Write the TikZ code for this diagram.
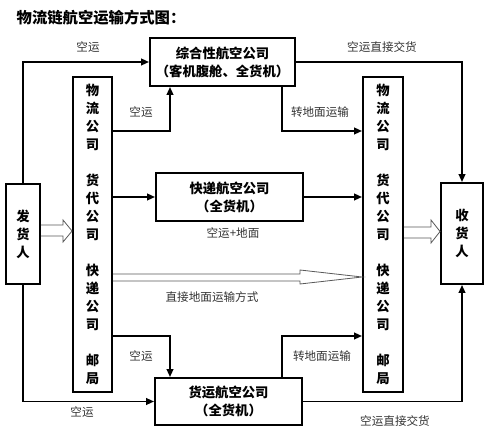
\documentclass[tikz,border=0pt]{standalone}
\usepackage{fontspec}
\setmainfont{Noto Sans CJK SC}
\usetikzlibrary{arrows.meta}
\begin{document}
\begin{tikzpicture}[x=0.75pt,y=-0.75pt,
    box/.style={draw,line width=1.4pt,inner sep=0pt,align=center,font=\bfseries\fontsize{10}{13.5}\selectfont},
    lbl/.style={text=black!80,font=\fontsize{8.7}{10}\selectfont},
    arr/.style={line width=1.4pt,-{Triangle[length=6pt,width=5pt]}},
    hollow/.style={draw=black!65,line width=0.6pt}]
    \useasboundingbox (0,0) rectangle (500,438);
    \node[anchor=west,font=\bfseries\fontsize{11.5}{12}\selectfont] (title) at (12,18) {物流链航空运输方式图：};
    \node[box,minimum width=25.5pt,minimum height=75pt] (sender) at (23,234) {发\\货\\人};
    \node[box,minimum width=31.5pt,minimum height=75.75pt] (receiver) at (462,233.5) {收\\货\\人};
    \node[box,minimum width=29.25pt,minimum height=236.25pt] (leftcol) at (92.5,234.5)
        {物\\流\\公\\司\\[13.5pt]货\\代\\公\\司\\[13.5pt]快\\递\\公\\司\\[13.5pt]邮\\局};
    \node[box,minimum width=30pt,minimum height=236.25pt] (rightcol) at (383,234.5)
        {物\\流\\公\\司\\[13.5pt]货\\代\\公\\司\\[13.5pt]快\\递\\公\\司\\[13.5pt]邮\\局};
    \node[box,minimum width=108.75pt,minimum height=36pt] (topbox) at (222.5,62) {综合性航空公司\\（客机腹舱、全货机）};
    \node[box,minimum width=110.25pt,minimum height=36pt] (midbox) at (229.5,197) {快递航空公司\\（全货机）};
    \node[box,minimum width=110.25pt,minimum height=35.25pt] (botbox) at (228.5,401.5) {货运航空公司\\（全货机）};
    % air routes
    \draw[arr] (sender.north) |- (topbox.west);
    \draw[arr] (sender.south) |- (botbox.west);
    \draw[arr] (leftcol.east |- 0,131) -| (170,0 |- topbox.south);
    \draw[arr] (leftcol.east |- 0,336) -| (170,0 |- botbox.north);
    \draw[arr] (leftcol.east |- midbox.west) -- (midbox.west);
    \draw[arr] (midbox.east) -- (rightcol.west |- midbox.east);
    \draw[arr] (282,0 |- topbox.south) |- (rightcol.west |- 0,131);
    \draw[arr] (282,0 |- botbox.north) |- (rightcol.west |- 0,336);
    \draw[arr] (topbox.east) -| (receiver.north);
    \draw[arr] (botbox.east) -| (receiver.south);
    % ground routes
    \draw[hollow] (sender.east |- 0,225) -- (63,225) -- (63,220) -- (leftcol.west |- 0,231)
        -- (63,242) -- (63,236) -- (sender.east |- 0,236);
    \draw[hollow] (rightcol.east |- 0,227) -- (431,227) -- (431,220) -- (receiver.west |- 0,231.5)
        -- (431,243) -- (431,238) -- (rightcol.east |- 0,238);
    \draw[hollow] (leftcol.east |- 0,274) -- (300,274) -- (300,270) -- (rightcol.west |- 0,277)
        -- (300,284) -- (300,281) -- (leftcol.east |- 0,281);
    \node[lbl] (l1) at (88,47) {空运};
    \node[lbl] (l2) at (141,112) {空运};
    \node[lbl] (l3) at (382,47) {空运直接交货};
    \node[lbl] (l4) at (320,112) {转地面运输};
    \node[lbl] (l5) at (233,233) {空运+地面};
    \node[lbl] (l6) at (212,297) {直接地面运输方式};
    \node[lbl] (l7) at (141,356) {空运};
    \node[lbl] (l8) at (322,356) {转地面运输};
    \node[lbl] (l9) at (82,412) {空运};
    \node[lbl] (l10) at (395,421) {空运直接交货};
\end{tikzpicture}
\end{document}
